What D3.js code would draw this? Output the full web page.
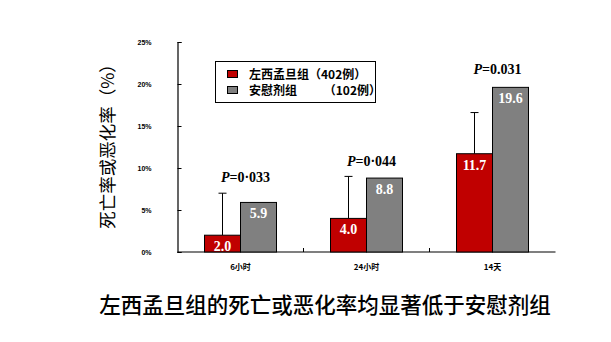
<!DOCTYPE html>
<html><head><meta charset="utf-8">
<script src="https://cdn.jsdelivr.net/npm/d3@7/dist/d3.min.js"></script>
<style>body{margin:0;background:#fff}svg{display:block}</style>
</head><body>
<svg id="c" width="611" height="342"></svg>
<script>
const categories = ["6小时", "24小时", "14天"];
const seriesNames = ["左西孟旦组（402例）", "安慰剂组　　 （102例）"];
const levoValues = [2.0, 4.0, 11.7];
const placeboValues = [5.9, 8.8, 19.6];
const levoErrorTop = [7.0, 9.0, 16.6];
const pLabels = ["=0·033", "=0·044", "=0.031"];
const pLabelHeights = [8.9, 10.8, 21.8];
const yTicks = [0, 5, 10, 15, 20, 25];
const colors = ["#C00000", "#808080"];

const svg = d3.select("#c");
const x = d3.scaleBand().domain(categories).range([177.5, 555.5]).paddingInner(0).paddingOuter(0);
const y = d3.scaleLinear().domain([0, 25]).range([252, 42]);
const sub = d3.scaleBand().domain([0, 1]).range([0, 72]);
const barOffset = (x.bandwidth() - 72) / 2;

// Y axis
const yAxis = d3.axisLeft(y).tickValues(yTicks).tickSize(-4).tickFormat(d => d + "%").tickPadding(26);
const gy = svg.append("g").attr("transform", "translate(177.5,0)").call(yAxis);
gy.select(".domain").attr("stroke", "#000").attr("stroke-width", 1.2);
gy.selectAll(".tick line").attr("stroke", "#000");
gy.selectAll(".tick text").attr("font-family", "Arial, 'Liberation Sans', sans-serif")
  .attr("font-weight", "bold").attr("font-size", 7).attr("fill", "#000");

// X axis
const gx = svg.append("g").attr("transform", "translate(0,252)");
gx.append("line").attr("x1", 177.5).attr("x2", 555.5).attr("stroke", "#000").attr("stroke-width", 1.2);
gx.selectAll(".tk").data(categories.slice(1)).join("line")
  .attr("x1", d => x(d)).attr("x2", d => x(d)).attr("y1", 0).attr("y2", -4).attr("stroke", "#000");
gx.selectAll(".lbl").data(categories).join("text")
  .attr("x", d => x(d) + x.bandwidth() / 2).attr("y", 18).attr("text-anchor", "middle")
  .attr("font-family", "'Noto Sans CJK SC', sans-serif").attr("font-weight", "bold").attr("font-size", 8)
  .text(d => d);

// Bars
const data = categories.map((c, i) => ({c, i, vals: [levoValues[i], placeboValues[i]]}));
const groups = svg.selectAll(".grp").data(data).join("g")
  .attr("transform", d => `translate(${x(d.c) + barOffset},0)`);

groups.append("line")
  .attr("x1", sub.bandwidth() / 2).attr("x2", sub.bandwidth() / 2)
  .attr("y1", d => y(levoValues[d.i])).attr("y2", d => y(levoErrorTop[d.i]))
  .attr("stroke", "#000").attr("stroke-width", 1);
groups.append("line")
  .attr("x1", sub.bandwidth() / 2 - 4).attr("x2", sub.bandwidth() / 2 + 4)
  .attr("y1", d => y(levoErrorTop[d.i])).attr("y2", d => y(levoErrorTop[d.i]))
  .attr("stroke", "#000").attr("stroke-width", 1);

groups.selectAll("rect").data(d => d.vals.map((v, k) => ({v, k}))).join("rect")
  .attr("x", d => sub(d.k)).attr("width", sub.bandwidth())
  .attr("y", d => y(d.v)).attr("height", d => y(0) - y(d.v))
  .attr("fill", d => colors[d.k]).attr("stroke", "#000").attr("stroke-width", 1);

groups.selectAll(".val").data(d => d.vals.map((v, k) => ({v, k}))).join("text")
  .attr("x", d => sub(d.k) + sub.bandwidth() / 2).attr("y", d => y(d.v) + 16)
  .attr("text-anchor", "middle").attr("fill", "#fff")
  .attr("font-family", "'Liberation Serif', 'Times New Roman', serif").attr("font-weight", "bold").attr("font-size", 14)
  .text(d => d.v.toFixed(1));

// P labels
const pt = svg.selectAll(".p").data(data).join("text")
  .attr("x", d => x(d.c) + x.bandwidth() / 2 + 5).attr("y", d => y(pLabelHeights[d.i]) + 5)
  .attr("text-anchor", "middle")
  .attr("font-family", "'Liberation Serif', 'Times New Roman', serif").attr("font-weight", "bold").attr("font-size", 14);
pt.append("tspan").attr("font-style", "italic").text("P");
pt.append("tspan").text(d => pLabels[d.i]);

// Legend
const lg = svg.append("g");
lg.append("rect").attr("x", 215.5).attr("y", 61.5).attr("width", 160).attr("height", 41)
  .attr("fill", "#fff").attr("stroke", "#000").attr("stroke-width", 1);
const li = lg.selectAll(".li").data(seriesNames).join("g")
  .attr("transform", (d, i) => `translate(0,${74 + i * 16})`);
li.append("rect").attr("x", 227.5).attr("y", -3.5).attr("width", 10).attr("height", 7)
  .attr("fill", (d, i) => colors[i]).attr("stroke", "#000").attr("stroke-width", 1);
li.append("text").attr("x", 249).attr("y", 4.5)
  .attr("font-family", "'Noto Sans CJK SC', sans-serif").attr("font-weight", "bold").attr("font-size", 12)
  .text(d => d);

// Y axis title
svg.append("text").attr("transform", "translate(114,142) rotate(-90)")
  .attr("text-anchor", "middle")
  .attr("font-family", "'Noto Sans CJK SC', serif").attr("font-size", 17.5)
  .text("死亡率或恶化率（%）");

// Bottom title
svg.append("text").attr("x", 325).attr("y", 313).attr("text-anchor", "middle")
  .attr("font-family", "'Noto Sans CJK SC', serif").attr("font-weight", 500).attr("font-size", 21.5)
  .text("左西孟旦组的死亡或恶化率均显著低于安慰剂组");
</script>
</body></html>
